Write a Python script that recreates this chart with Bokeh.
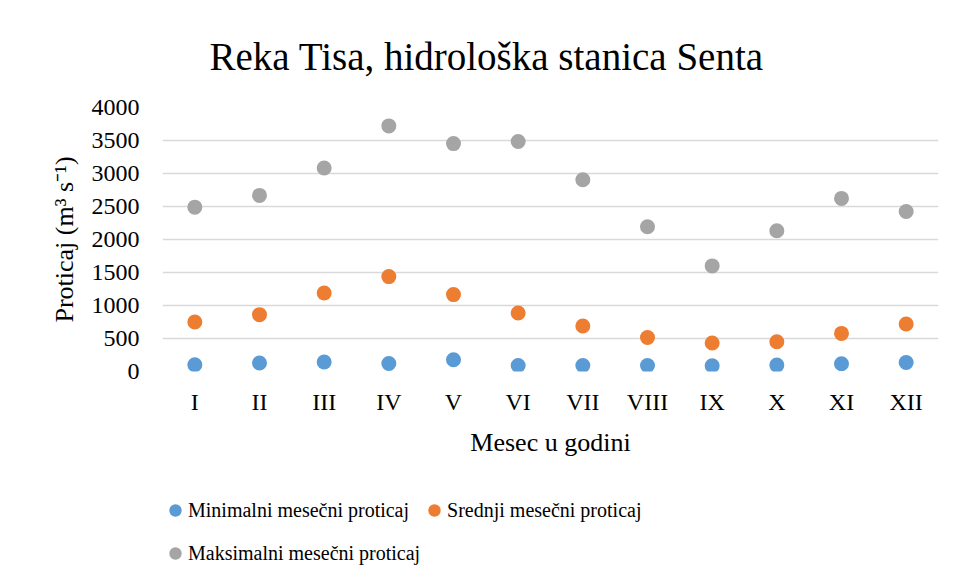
from bokeh.plotting import figure
from bokeh.layouts import column
from bokeh.models import Legend, LegendItem, ColumnDataSource, FixedTicker
from bokeh.embed import file_html
from bokeh.resources import INLINE

months = ["I", "II", "III", "IV", "V", "VI", "VII", "VIII", "IX", "X", "XI", "XII"]
min_flow = [102, 128, 143, 122, 178, 91, 91, 91, 88, 97, 117, 137]
mean_flow = [750, 861, 1190, 1438, 1165, 887, 689, 516, 431, 451, 577, 720]
max_flow = [2490, 2668, 3083, 3721, 3453, 3484, 2906, 2193, 1600, 2132, 2623, 2425]
y_ticks = [0, 500, 1000, 1500, 2000, 2500, 3000, 3500, 4000]
series_names = ["Minimalni mesečni proticaj", "Srednji mesečni proticaj", "Maksimalni mesečni proticaj"]
colors = ["#5B9BD5", "#ED7D31", "#A5A5A5"]

FONT = "Liberation Serif"
W = 948

p = figure(x_range=months, y_range=(0, 4000), width=W, height=470,
           output_backend="svg", toolbar_location=None,
           min_border_left=155, min_border_right=9, min_border_top=107, min_border_bottom=99,
           title="Reka Tisa, hidrološka stanica Senta")
p.outline_line_color = None
p.background_fill_color = "white"
p.border_fill_color = "white"

p.title.text_font = FONT
p.title.text_font_size = "39px"
p.title.text_font_style = "normal"
p.title.text_color = "#000000"
p.title.align = "left"
p.title.offset = 47
p.title.standoff = 59

src = ColumnDataSource(dict(m=months, mn=min_flow, me=mean_flow, mx=max_flow))
r1 = p.scatter("m", "mn", source=src, size=15, color=colors[0], line_color=None)
r2 = p.scatter("m", "me", source=src, size=15, color=colors[1], line_color=None)
r3 = p.scatter("m", "mx", source=src, size=15, color=colors[2], line_color=None)

p.yaxis.ticker = FixedTicker(ticks=y_ticks)
p.yaxis.axis_line_color = None
p.yaxis.major_tick_line_color = None
p.yaxis.major_tick_out = 0
p.yaxis.minor_tick_line_color = None
p.yaxis.major_label_standoff = 23
p.yaxis.axis_label = "Proticaj (m³ s⁻¹)"
p.yaxis.axis_label_standoff = 10

p.xaxis.axis_line_color = None
p.xaxis.major_tick_line_color = None
p.xaxis.major_tick_out = 0
p.xaxis.major_label_standoff = 17
p.xaxis.axis_label = "Mesec u godini"
p.xaxis.axis_label_standoff = 10

for ax in (p.xaxis[0], p.yaxis[0]):
    ax.major_label_text_font = FONT
    ax.major_label_text_font_size = "24px"
    ax.major_label_text_color = "#000000"
    ax.axis_label_text_font = FONT
    ax.axis_label_text_font_size = "26px"
    ax.axis_label_text_font_style = "normal"
    ax.axis_label_text_color = "#000000"

p.xgrid.grid_line_color = None
p.ygrid.grid_line_color = "#D9D9D9"
p.ygrid.grid_line_width = 1.3

# legend panel below the chart
pl = figure(width=W, height=102, x_range=(0, 1), y_range=(0, 1),
            output_backend="svg", toolbar_location=None,
            min_border_left=162, min_border_top=25, min_border_right=10, min_border_bottom=4)
pl.axis.visible = False
pl.grid.visible = False
pl.outline_line_color = None
pl.border_fill_color = "white"
pl.background_fill_color = "white"
nan = float("nan")
lr = [pl.scatter([nan], [nan], size=15, fill_color=c, line_color=c, line_width=2) for c in colors]


def make_legend(idx, loc):
    lg = Legend(items=[LegendItem(label=series_names[i], renderers=[lr[i]]) for i in idx],
                location=loc, orientation="horizontal")
    lg.label_text_font = FONT
    lg.label_text_font_size = "20px"
    lg.label_text_color = "#000000"
    lg.border_line_color = None
    lg.background_fill_alpha = 0
    lg.glyph_width = 26
    lg.glyph_height = 30
    lg.label_standoff = 0
    lg.spacing = 12
    lg.padding = 0
    lg.margin = 0
    return lg


pl.add_layout(make_legend([0, 1], "top_left"), "center")
pl.add_layout(make_legend([2], "bottom_left"), "center")

layout = column(p, pl, spacing=0)
open("out.html", "w").write(file_html(layout, INLINE))
